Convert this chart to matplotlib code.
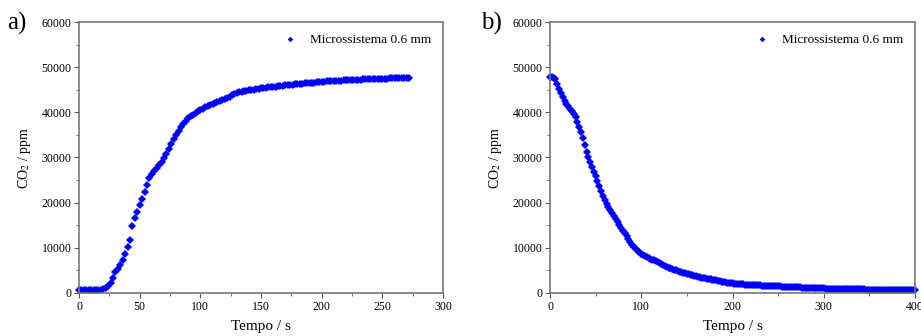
import numpy as np
import matplotlib.pyplot as plt

# CO2 readings, one every 2 s
co2_a = [
    600, 610, 600, 620, 610, 600, 610, 620, 600, 640,          # 0-18
    800, 1100, 1500, 2200, 3300, 4600, 5400, 6200, 7200, 8600,  # 20-38
    10200, 11800, 14800, 16500, 18000, 19400, 20800, 22400, 24000, 25400,  # 40-58
    26400, 27000, 27600, 28300, 29000, 29800, 30800, 31800, 32900, 34000,  # 60-78
    35000, 35900, 36700, 37400, 38100, 38700, 39100, 39500, 39900, 40200,  # 80-98
    40500, 40800, 41100, 41400, 41600, 41800, 42000, 42300, 42500, 42700,  # 100-118
    42950, 43200, 43500, 43800, 44000, 44200, 44400, 44600, 44700, 44750,  # 120-138
    44850, 44950, 45050, 45150, 45250, 45300, 45400, 45450, 45520, 45600,  # 140-158
    45650, 45720, 45780, 45850, 45900, 45960, 46020, 46080, 46130, 46180,  # 160-178
    46250, 46300, 46350, 46400, 46450, 46500, 46550, 46600, 46650, 46700,  # 180-198
    46750, 46790, 46830, 46870, 46900, 46940, 46970, 47000, 47030, 47060,  # 200-218
    47090, 47120, 47150, 47180, 47200, 47230, 47250, 47280, 47300, 47320,  # 220-238
    47340, 47360, 47380, 47400, 47420, 47440, 47460, 47480, 47500, 47510,  # 240-258
    47520, 47540, 47550, 47560, 47570, 47580, 47600,                       # 260-272
]

co2_b = [
    47800, 47800, 47700, 47300, 46300, 45200, 44200, 43300, 42600, 41900,  # 0-18
    41300, 40800, 40300, 39700, 38900, 37900, 36800, 35600, 34300, 32800,  # 20-38
    31200, 30000, 28900, 27900, 26900, 25900, 24800, 23700, 22600, 21500,  # 40-58
    20600, 19800, 19100, 18400, 17700, 17000, 16400, 15700, 15100, 14400,  # 60-78
    13800, 13200, 12600, 11900, 11200, 10600, 10100, 9700, 9300, 9000,     # 80-98
    8700, 8400, 8200, 8000, 7800, 7600, 7400, 7200, 7000, 6800,            # 100-118
    6600, 6400, 6200, 6000, 5800, 5600, 5450, 5300, 5150, 5000,            # 120-138
    4850, 4720, 4600, 4480, 4350, 4200, 4100, 4000, 3900, 3800,            # 140-158
    3700, 3600, 3500, 3420, 3340, 3260, 3180, 3100, 3020, 2940,            # 160-178
    2860, 2780, 2700, 2620, 2540, 2460, 2380, 2300, 2240, 2180,            # 180-198
    2120, 2080, 2040, 2000, 1970, 1940, 1910, 1880, 1850, 1820,            # 200-218
    1790, 1760, 1730, 1700, 1680, 1660, 1640, 1620, 1600, 1580,            # 220-238
    1560, 1540, 1520, 1500, 1480, 1460, 1440, 1420, 1400, 1380,            # 240-258
    1360, 1340, 1320, 1300, 1280, 1260, 1240, 1220, 1200, 1180,            # 260-278
    1160, 1140, 1120, 1100, 1080, 1060, 1050, 1040, 1030, 1020,            # 280-298
    1000, 990, 980, 970, 960, 950, 940, 930, 920, 910,                     # 300-318
    900, 890, 880, 870, 860, 850, 840, 830, 820, 810,                      # 320-338
    800, 790, 780, 770, 760, 750, 745, 740, 735, 730,                      # 340-358
    725, 720, 715, 710, 705, 700, 695, 690, 685, 680,                      # 360-378
    675, 670, 665, 660, 655, 650, 645, 640, 635, 630,                      # 380-398
    625,                                                                   # 400
]
dt = 2
label = 'Microssistema 0.6 mm'

plt.rcParams['font.family'] = ['Liberation Serif', 'DejaVu Serif']
plt.rcParams['mathtext.fontset'] = 'stix'

fig = plt.figure(figsize=(9.21, 3.36), dpi=100)
ax_a = fig.add_axes([0.0858, 0.128, 0.3953, 0.8065])
ax_b = fig.add_axes([0.5972, 0.128, 0.3963, 0.8065])

panels = [
    (ax_a, co2_a, 300, 50, 25, 'a)', 0.008),
    (ax_b, co2_b, 400, 100, 50, 'b)', 0.522),
]

for ax, co2, xmax, major, minor, tag, tag_x in panels:
    t = np.arange(len(co2)) * dt
    ax.plot(t, co2, 'D', color='#0000ff', markersize=3.6, markeredgewidth=0,
            label=label, clip_on=False)
    ax.set_xlim(0, xmax)
    ax.set_ylim(0, 60000)
    ax.set_xticks(np.arange(0, xmax + 1, major))
    ax.set_xticks(np.arange(0, xmax + 1, minor), minor=True)
    ax.set_yticks(np.arange(0, 60001, 10000))
    ax.set_yticks(np.arange(0, 60001, 5000), minor=True)
    ax.tick_params(which='both', direction='out', top=False, right=False,
                   color='#555555', labelsize=8.5, pad=2)
    ax.tick_params(which='major', length=3.5, width=0.8)
    ax.tick_params(which='minor', length=2, width=0.6)
    for s in ax.spines.values():
        s.set_color('#777777')
        s.set_linewidth(1.2)
    ax.set_xlabel('Tempo / s', fontsize=11, labelpad=5)
    ax.set_ylabel('CO$_2$ / ppm', fontsize=10, labelpad=6)
    leg = ax.legend(loc='upper right', frameon=False, fontsize=9.5,
                    markerscale=0.8, handlelength=1.0, handletextpad=1.0,
                    borderaxespad=0.5)
    fig.text(tag_x, 0.93, tag, fontsize=18, va='center', ha='left')

fig.savefig('out.png', dpi=100)
